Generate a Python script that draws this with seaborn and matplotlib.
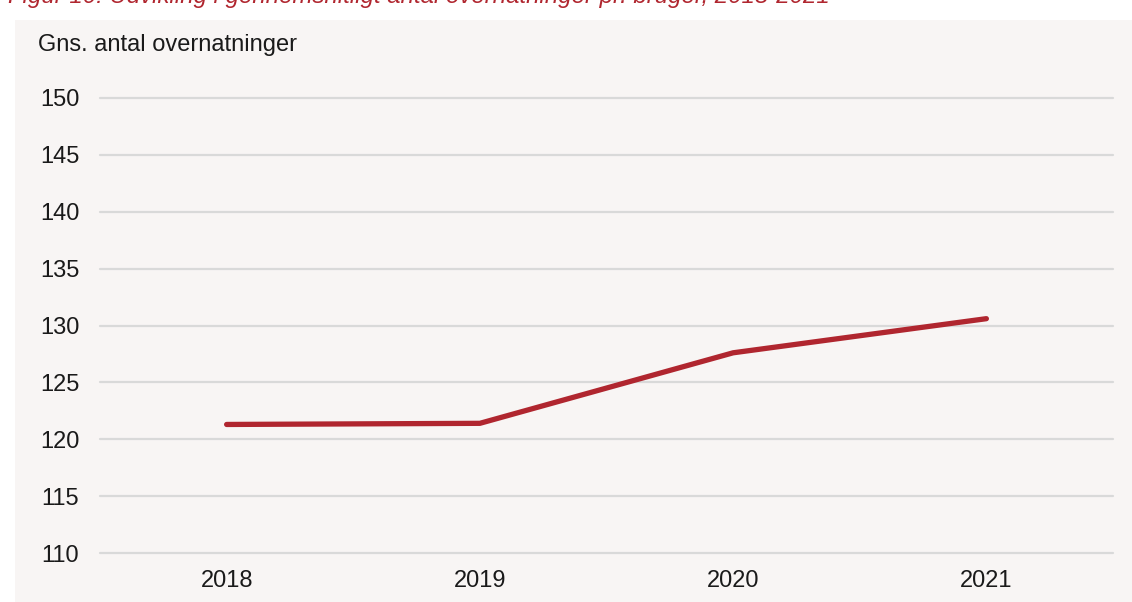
import matplotlib.pyplot as plt
import matplotlib.patches as mpatches
import seaborn as sns
import pandas as pd

# Average overnight stays per user, 2018-2021
years = ['2018', '2019', '2020', '2021']
avg_stays = [121.3, 121.4, 127.6, 130.6]
y_ticks = [110, 115, 120, 125, 130, 135, 140, 145, 150]

sns.set_style('white')
plt.rcParams['font.family'] = ['Liberation Sans', 'DejaVu Sans']

bg = '#F8F5F4'
red = '#B0262F'

fig = plt.figure(figsize=(11.32, 6.02), dpi=100, facecolor='white')
fig.patches.append(mpatches.Rectangle((15 / 1132, 0), 1, 582 / 602, transform=fig.transFigure,
                                      facecolor=bg, edgecolor='none', zorder=-5))
ax = fig.add_axes([100 / 1132, 49 / 602, 1013 / 1132, 455 / 602])
ax.set_facecolor(bg)

df = pd.DataFrame({'year': years, 'stays': avg_stays})
sns.lineplot(data=df, x='year', y='stays', ax=ax, color=red, linewidth=3.8,
             solid_capstyle='round', zorder=3)

ax.set_xlim(-0.5, 3.5)
ax.set_ylim(110, 150)
ax.set_yticks(y_ticks)
ax.yaxis.grid(True, color='#D9D9D9', linewidth=1.6)
for gl in ax.yaxis.get_gridlines():
    gl.set_clip_on(False)
ax.set_axisbelow(True)
for s in ax.spines.values():
    s.set_visible(False)
ax.tick_params(axis='both', length=0, labelsize=17, colors='#1a1a1a')
ax.tick_params(axis='y', pad=15)
ax.tick_params(axis='x', pad=12)
ax.set_xlabel('')
ax.set_ylabel('')

fig.text(38 / 1132, 1 - 45 / 602, 'Gns. antal overnatninger', fontsize=17, va='center',
         ha='left', color='#1a1a1a')
fig.text(8 / 1132, 1 - 3 / 602, 'Figur 10: Udvikling i gennemsnitligt antal overnatninger pr. bruger, 2018-2021',
         fontsize=17.3, style='italic', color=red, va='baseline', ha='left')

fig.savefig('out.png', dpi=100, facecolor='white')
